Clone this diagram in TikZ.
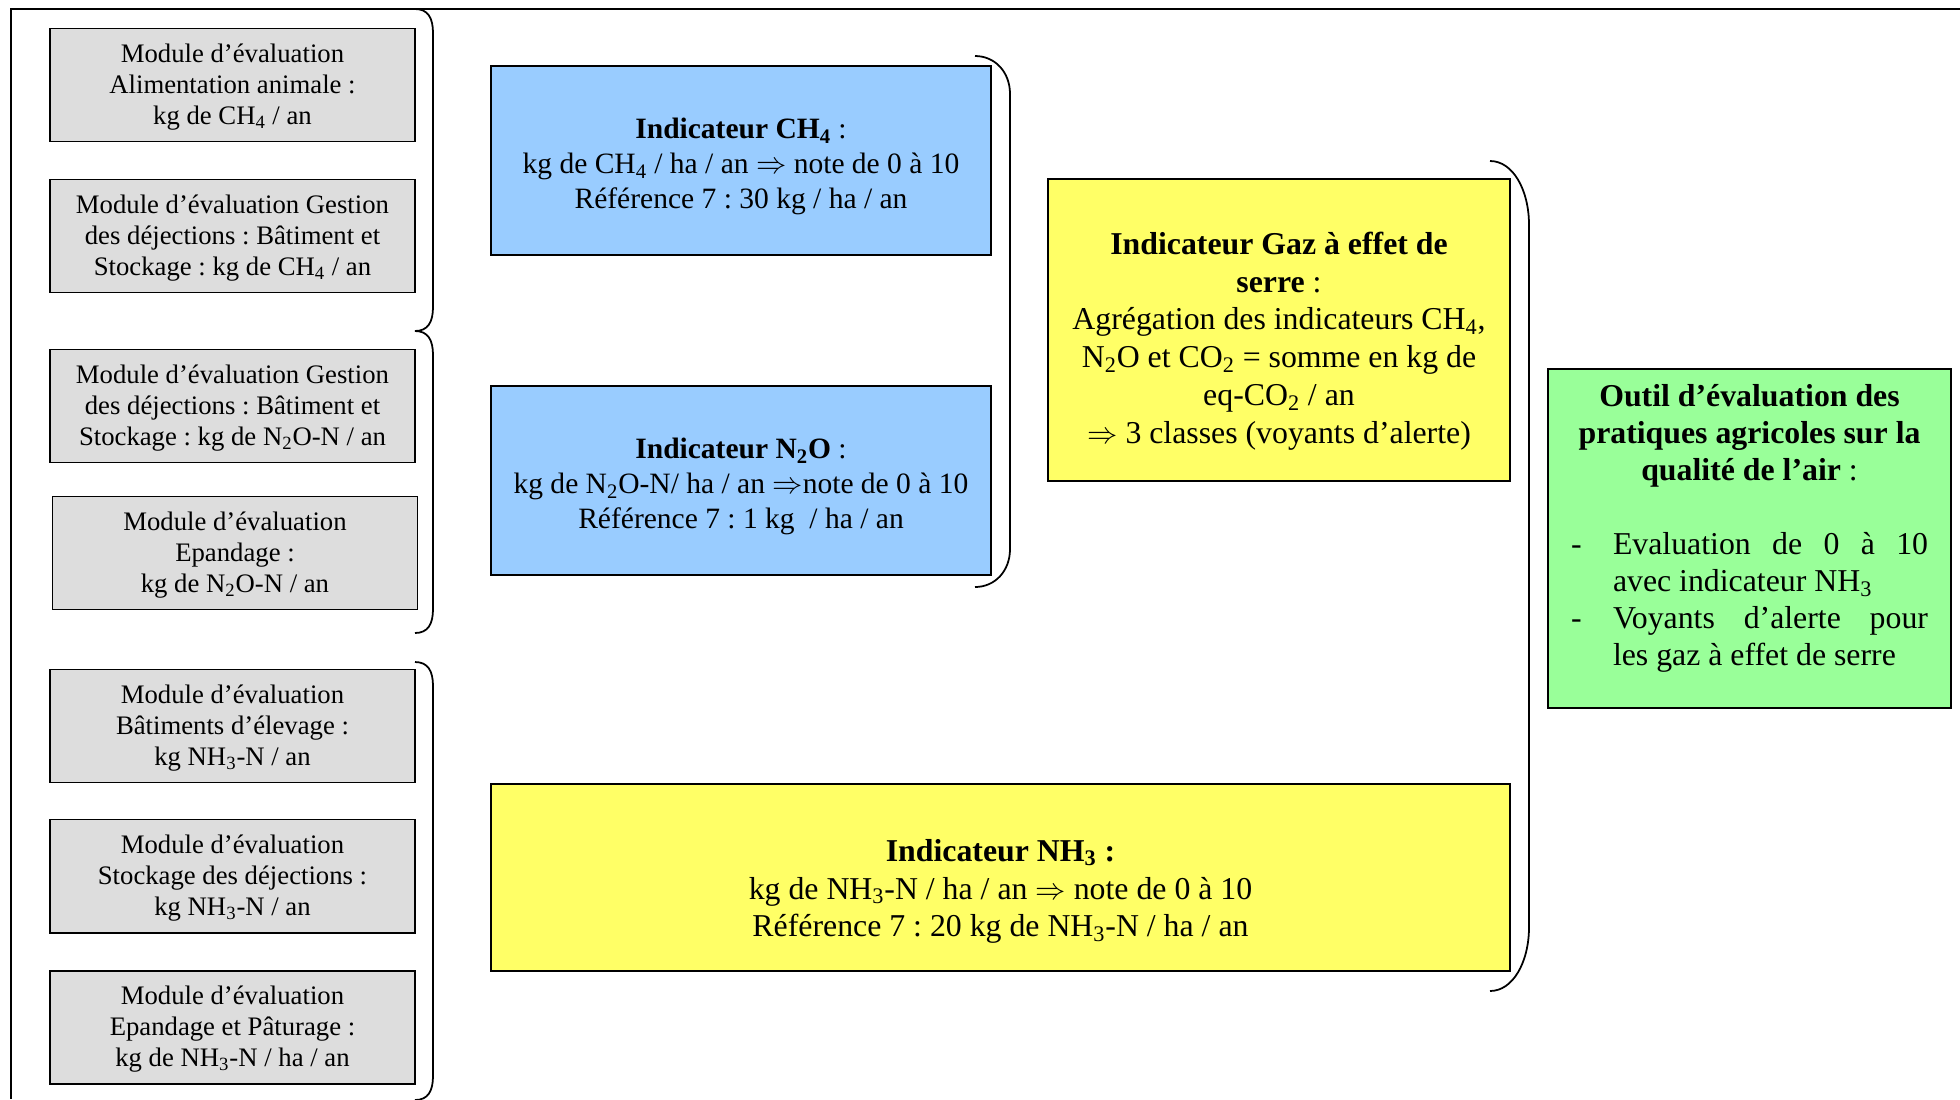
\documentclass[tikz,border=0pt]{standalone}
\usepackage{fontspec}
\setmainfont{Liberation Serif}
\frenchspacing
\usetikzlibrary{positioning}
\definecolor{GrisClair}{RGB}{221,221,221}
\definecolor{BleuCiel}{RGB}{153,204,255}
\definecolor{JauneVif}{RGB}{255,255,102}
\definecolor{VertClair}{RGB}{153,255,153}
\tikzset{module/.style={rectangle, draw=black, fill=GrisClair, line width=1.1pt,
  minimum width=73mm, minimum height=22.6mm, text width=68mm, align=flush center,
  inner sep=0pt, outer sep=0pt, font=\fontsize{15.2}{17.6}\selectfont}}
\tikzset{indic/.style={module, fill=BleuCiel, minimum width=100mm, minimum height=37.8mm,
  text width=94mm, font=\fontsize{16.8}{19.9}\selectfont}}
\tikzset{synth/.style={indic, fill=JauneVif, font=\fontsize{18.1}{21.5}\selectfont}}
\tikzset{outil/.style={synth, fill=VertClair, minimum width=80.6mm,
  minimum height=67.8mm, text width=71.4mm, font=\fontsize{18.1}{21}\selectfont}}
% decalage vertical du texte (positif : vers le haut)
\tikzset{decal/.style={execute at end node={\par\vspace*{#1}}}}
\tikzset{crochet/.style={draw=black, line width=1pt}}
\tikzset{cadre/.style={draw=black, line width=1.3pt}}

\begin{document}
\begin{tikzpicture}[x=0.2mm, y=-0.2mm]
\useasboundingbox (0,0) rectangle (1960,1099);
\draw[cadre] (1960,9) -- (11,9) -- (11,1099);
% modules d'evaluation
\node[module, decal=-0.8mm] (m1) at (232.5,85) {Module d’évaluation\\Alimentation animale :\\kg de CH\textsubscript{4} / an};
\node[module, decal=-0.8mm, below=7.6mm of m1] (m2) {Module d’évaluation Gestion\\des déjections : Bâtiment et\\Stockage : kg de CH\textsubscript{4} / an};
\node[module, decal=-0.8mm, below=11.4mm of m2] (m3) {Module d’évaluation Gestion\\des déjections : Bâtiment et\\Stockage : kg de N\textsubscript{2}O-N / an};
\node[module, decal=-0.8mm, below=6.8mm of m3, xshift=0.5mm] (m4) {Module d’évaluation\\Epandage :\\kg de N\textsubscript{2}O-N / an};
\node[module, decal=-0.8mm, below=12mm of m4, xshift=-0.5mm] (m5) {Module d’évaluation\\Bâtiments d’élevage :\\kg NH\textsubscript{3}-N / an};
\node[module, decal=-0.8mm, below=7.4mm of m5] (m6) {Module d’évaluation\\Stockage des déjections :\\kg NH\textsubscript{3}-N / an};
\node[module, decal=-0.8mm, below=7.6mm of m6] (m7) {Module d’évaluation\\Epandage et Pâturage :\\kg de NH\textsubscript{3}-N / ha / an};
% indicateurs
\node[indic, decal=-2.4mm] (ch4) at (741,160.5) {\textbf{Indicateur CH\textsubscript{4}} :\\kg de CH\textsubscript{4} / ha / an $\Rightarrow$ note de 0 à 10\\Référence 7 : 30 kg / ha / an};
\node[indic, decal=-2.4mm, below=26.2mm of ch4] (n2o) {\textbf{Indicateur N\textsubscript{2}O} :\\kg de N\textsubscript{2}O-N/ ha / an $\Rightarrow$note de 0 à 10\\Référence 7 : 1 kg~ / ha / an};
\node[synth, decal=-4.4mm, minimum width=92.4mm, minimum height=60.4mm, text width=88mm] (ges) at (1279,330) {\textbf{Indicateur Gaz à effet de}\\\textbf{serre} :\\Agrégation des indicateurs CH\textsubscript{4},\\N\textsubscript{2}O et CO\textsubscript{2} = somme en kg de\\eq-CO\textsubscript{2} / an\\$\Rightarrow$ 3 classes (voyants d’alerte)};
\node[synth, decal=-5.6mm, minimum width=203.8mm, minimum height=37.4mm, text width=190mm] (nh3) at (1000.5,877.5) {\textbf{Indicateur NH\textsubscript{3} :}\\kg de NH\textsubscript{3}-N / ha / an $\Rightarrow$ note de 0 à 10\\Référence 7 : 20 kg de NH\textsubscript{3}-N / ha / an};
\node[outil, decal=4mm] (outil) at (1749.5,538.5) {\textbf{Outil d’évaluation des}\\\textbf{pratiques agricoles sur la}\\\textbf{qualité de l’air} :\\[21pt]
  \makebox[8.4mm][l]{-}\makebox[63mm][s]{Evaluation de 0 à 10}\\
  \makebox[71.4mm][l]{\hspace*{8.4mm}avec indicateur NH\textsubscript{3}}\\
  \makebox[8.4mm][l]{-}\makebox[63mm][s]{Voyants d’alerte pour}\\
  \makebox[71.4mm][l]{\hspace*{8.4mm}les gaz à effet de serre}};
% crochets
\draw[crochet] (415,9) .. controls (428,9) and (433,18) .. (433,33) -- (433,307) .. controls (433,322) and (428,331) .. (415,331);
\draw[crochet] (415,331) .. controls (428,331) and (433,340) .. (433,355) -- (433,609) .. controls (433,624) and (428,633) .. (415,633);
\draw[crochet] (415,662) .. controls (428,662) and (433,671) .. (433,686) -- (433,1076) .. controls (433,1091) and (428,1100) .. (415,1100);
\draw[crochet] (975,56) .. controls (995,56) and (1010,72) .. (1010,94) -- (1010,549) .. controls (1010,571) and (995,587) .. (975,587);
\draw[crochet] (1490,161) .. controls (1513,161) and (1529,190) .. (1529,225) -- (1529,927) .. controls (1529,962) and (1513,991) .. (1490,991);
\end{tikzpicture}
\end{document}
